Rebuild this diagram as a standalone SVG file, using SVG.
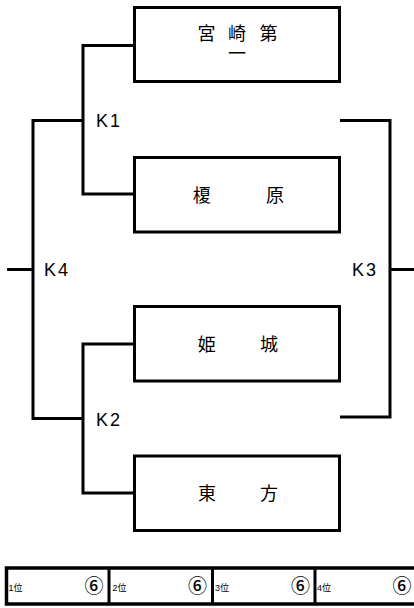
<svg xmlns="http://www.w3.org/2000/svg" width="414" height="608" viewBox="0 0 414 608">
<style>
.box{fill:#fff;stroke:#000;stroke-width:3}
.ln{fill:none;stroke:#000;stroke-width:3}
.team{font-family:"Noto Sans CJK JP","Noto Sans CJK SC",sans-serif;font-size:18px;fill:#000;text-anchor:middle}
.lbl{font-family:"Liberation Sans",Arial,sans-serif;font-size:18px;fill:#000;letter-spacing:2px}
.rk{font-family:"Liberation Sans","Noto Sans CJK JP",sans-serif;font-size:9px;fill:#000}
.num{font-family:"Noto Sans CJK JP",sans-serif;font-size:19px;font-weight:500;fill:#000;text-anchor:middle}
</style>
<rect width="414" height="608" fill="#fff"/>
<g id="connectors">
<path class="ln" d="M134 45.5H83V194H134"/>
<path class="ln" d="M83 120.5H33V418.5H83"/>
<path class="ln" d="M7 269.5H33"/>
<path class="ln" d="M134 344H83V493H134"/>
<path class="ln" d="M340 120.5H390V417H340"/>
<path class="ln" d="M390 269.5H414"/>
</g>
<g id="labels">
<text class="lbl" x="96" y="127">K1</text>
<text class="lbl" x="44" y="276">K4</text>
<text class="lbl" x="96" y="426">K2</text>
<text class="lbl" x="352" y="276">K3</text>
</g>
<g id="node-miyazakidaiichi">
<rect class="box" x="134.5" y="7.5" width="205" height="74"/>
<text class="team"><tspan x="206.5 237 268.5" y="39.5">宮崎第</tspan><tspan x="237" y="60">一</tspan></text>
</g>
<g id="node-enokibaru">
<rect class="box" x="134.5" y="157.5" width="205" height="74.5"/>
<text class="team" x="201.7 275" y="201.5">榎原</text>
</g>
<g id="node-himejo">
<rect class="box" x="134.5" y="306.5" width="205" height="74.5"/>
<text class="team" x="206.7 269" y="350.5">姫城</text>
</g>
<g id="node-higashikata">
<rect class="box" x="134.5" y="456" width="205" height="74.5"/>
<text class="team" x="207 269" y="499.5">東方</text>
</g>
<g id="ranking">
<rect x="6.5" y="568" width="412" height="36" fill="#fff" stroke="#000" stroke-width="3.5"/>
<path class="ln" d="M109 568V604M212.5 568V604M315 568V604"/>
<text class="rk" x="8.5" y="591">1位</text>
<text class="rk" x="112.5" y="591">2位</text>
<text class="rk" x="215" y="591">3位</text>
<text class="rk" x="317" y="591">4位</text>
<text class="num" x="94" y="593">⑥</text>
<text class="num" x="197.5" y="593">⑥</text>
<text class="num" x="300.5" y="593">⑥</text>
<text class="num" x="402" y="593">⑥</text>
</g>
</svg>
